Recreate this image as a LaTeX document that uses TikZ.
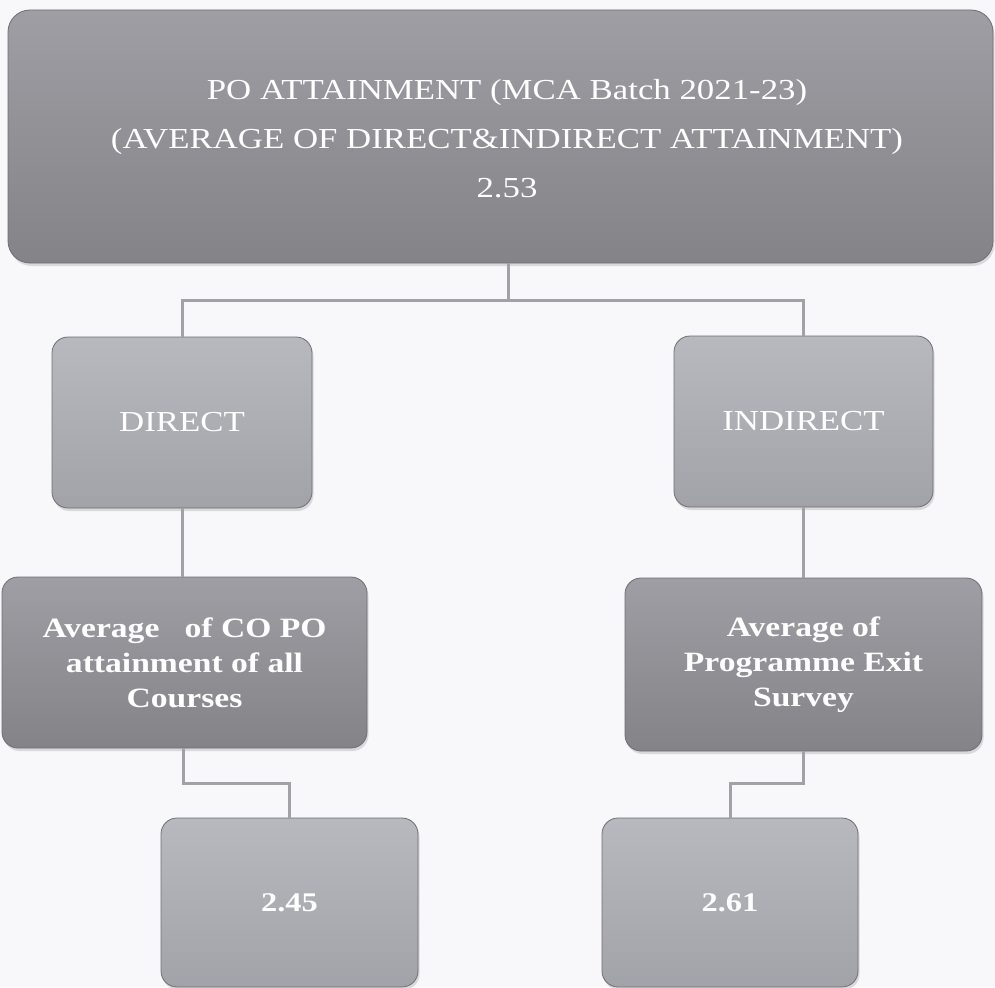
\documentclass[tikz,border=0pt]{standalone}
\usepackage{fontspec}
\newfontfamily\boxfont{Liberation Serif}[FakeStretch=1.2]
\usetikzlibrary{shadows}
\definecolor{bgc}{HTML}{F8F8FA}
\definecolor{linec}{HTML}{A2A2A6}
\definecolor{edgec}{HTML}{6E6E74}
\definecolor{darktop}{HTML}{9E9EA4}
\definecolor{darkbot}{HTML}{838388}
\definecolor{lighttop}{HTML}{B8B8BF}
\definecolor{lightbot}{HTML}{A2A2A9}
\tikzset{
  basebox/.style={rectangle, rounded corners=16pt, draw=edgec, line width=0.8pt,
    text=white, align=center, inner sep=0pt,
    drop shadow={opacity=0.25, shadow xshift=1.5pt, shadow yshift=-3pt}},
  darkbox/.style={basebox, top color=darktop, bottom color=darkbot},
  lightbox/.style={basebox, top color=lighttop, bottom color=lightbot},
  conn/.style={draw=linec, line width=3pt}
}
\begin{document}
\begin{tikzpicture}[x=1pt,y=-1pt]
\fill[bgc] (0,0) rectangle (995,987);
\useasboundingbox (0,0) rectangle (995,987);

\node[darkbox, rounded corners=22pt, minimum width=985pt, minimum height=253pt] (top) at (500.5,136.5) {};
\node[text=white, align=center, font=\boxfont\fontsize{29}{49}\selectfont] (toptext) at (507,139)
  {PO ATTAINMENT (MCA Batch 2021-23)\\(AVERAGE OF DIRECT\&INDIRECT ATTAINMENT)\\2.53};

\node[lightbox, minimum width=260pt, minimum height=171pt,
  font=\boxfont\fontsize{29}{32}\selectfont] (direct) at (182,422.5) {DIRECT};
\node[lightbox, minimum width=259pt, minimum height=171pt,
  font=\boxfont\fontsize{29}{32}\selectfont] (indirect) at (803.5,421.5) {INDIRECT};

\node[darkbox, minimum width=365pt, minimum height=171pt,
  font=\boxfont\bfseries\fontsize{28}{35}\selectfont] (avgl) at (184.5,662.5)
  {Average\ \ \ of CO PO\\attainment of all\\Courses};
\node[darkbox, minimum width=357pt, minimum height=173pt,
  font=\boxfont\bfseries\fontsize{28}{35}\selectfont] (avgr) at (803.5,664.5)
  {Average of\\Programme Exit\\Survey};

\node[lightbox, minimum width=257pt, minimum height=169pt,
  font=\boxfont\bfseries\fontsize{27}{30}\selectfont] (numl) at (289.5,902.5) {2.45};
\node[lightbox, minimum width=256pt, minimum height=169pt,
  font=\boxfont\bfseries\fontsize{27}{30}\selectfont] (numr) at (730,902.5) {2.61};

\coordinate (j) at (508,300);
\coordinate (kl) at (183,783);
\coordinate (kr) at (803.5,783);

\draw[conn] (j |- top.south) -- (j);
\draw[conn] (direct.north) |- (j) -| (indirect.north);
\draw[conn] (direct.south) -- (direct.south |- avgl.north);
\draw[conn] (indirect.south) -- (indirect.south |- avgr.north);
\draw[conn] (kl |- avgl.south) -- (kl) -| (numl.north);
\draw[conn] (kr |- avgr.south) -- (kr) -| (numr.north);
\end{tikzpicture}
\end{document}
